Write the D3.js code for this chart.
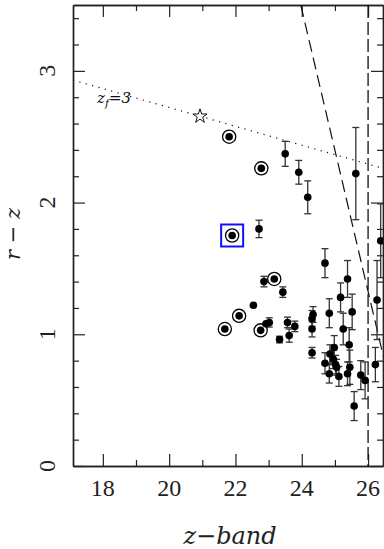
<!DOCTYPE html>
<html>
<head>
<meta charset="utf-8">
<script src="https://cdn.jsdelivr.net/npm/d3@7"></script>
<style>
  html, body { margin: 0; padding: 0; background: #fff; }
  svg { display: block; }
</style>
</head>
<body>
<svg id="chart" width="384" height="549"></svg>
<script>
// z-band magnitude and r - z colour of the detected objects, with 1-sigma colour errors
const zBand   = [23.50, 23.91, 24.18, 22.71, 25.63, 26.38, 26.27, 22.86, 23.43, 22.54,
                 22.92, 23.02, 23.33, 23.57, 23.62, 23.79, 24.31, 24.34, 24.31, 24.31,
                 24.70, 24.83, 25.17, 25.38, 25.52, 25.25, 24.70, 24.85, 24.98, 24.95,
                 25.02, 24.83, 25.12, 25.43, 25.45, 25.38, 25.78, 25.91, 25.58, 26.22,
                 25.05];
const rMinusZ = [2.37, 2.23, 2.04, 1.80, 2.22, 1.71, 1.26, 1.40, 1.32, 1.22,
                 1.08, 1.09, 0.96, 1.09, 0.99, 1.06, 1.12, 1.15, 1.04, 0.86,
                 1.54, 1.16, 1.28, 1.42, 1.17, 1.04, 0.78, 0.85, 0.90, 0.81,
                 0.77, 0.70, 0.68, 0.92, 0.75, 0.70, 0.69, 0.65, 0.455, 0.77,
                 0.75];
const colourErr = [0.095, 0.09, 0.125, 0.066, 0.35, 0.28, 0.30, 0.04, 0.04, 0,
                   0, 0.035, 0.025, 0.04, 0.05, 0.04, 0.06, 0.06, 0.06, 0.04,
                   0.11, 0.11, 0.11, 0.14, 0.135, 0.12, 0.08, 0.07, 0.09, 0.07,
                   0.07, 0.07, 0.075, 0.13, 0.13, 0.09, 0.11, 0.14, 0.11, 0.13,
                   0.06];

// spectroscopically confirmed objects (ringed)
const ringZ  = [21.81, 22.78, 21.90, 23.17, 22.11, 21.68, 22.76];
const ringRZ = [2.50, 2.26, 1.75, 1.42, 1.14, 1.04, 1.03];

// highlighted object (boxed)
const boxZ = [21.90];
const boxRZ = [1.75];

// model galaxy with formation redshift z_f = 3
const starZ = [20.93];
const starRZ = [2.655];
const trackZ  = [17.10, 26.45];
const trackRZ = [2.93, 2.26];
const trackLabel = ["z", "f", "=3"];

// detection limits
const limitZ  = [23.97, 26.50];
const limitRZ = [3.50, 0.79];
const zLimit = [26.0];

// axes
const xDomain = [17.1, 26.45];
const yDomain = [0, 3.5];
const xMajor = [18, 20, 22, 24, 26];
const xMinor = [19, 21, 23, 25];
const yMajor = [0, 1, 2, 3];
const yMinor = d3.range(0, 3.5001, 0.2).map(v => +v.toFixed(1));
const xTitle = "z\u2212band";
const yTitle = "r \u2212 z";

const svg = d3.select("#chart");
const pLeft = 73, pRight = 383, pTop = 5, pBottom = 466;

const x = d3.scaleLinear().domain(xDomain).range([pLeft, pRight]);
const y = d3.scaleLinear().domain(yDomain).range([pBottom, pTop]);

svg.append("defs").append("clipPath").attr("id", "plotClip")
  .append("rect").attr("x", pLeft).attr("y", pTop)
  .attr("width", pRight - pLeft).attr("height", pBottom - pTop);

const axisColor = "#222";
function styleAxis(g) {
  g.selectAll("path.domain").attr("stroke", axisColor).attr("stroke-width", 1.4);
  g.selectAll(".tick line").attr("stroke", axisColor).attr("stroke-width", 1.2);
  g.selectAll(".tick text").remove();
}

// bottom / top
[[d3.axisBottom, pBottom], [d3.axisTop, pTop]].forEach(([fn, pos]) => {
  svg.append("g").attr("transform", `translate(0,${pos})`)
    .call(fn(x).tickValues(xMajor).tickSize(-12).tickSizeOuter(0)).call(styleAxis);
  svg.append("g").attr("transform", `translate(0,${pos})`)
    .call(fn(x).tickValues(xMinor).tickSize(-6).tickSizeOuter(0)).call(styleAxis);
});
// left / right
[[d3.axisLeft, pLeft], [d3.axisRight, pRight]].forEach(([fn, pos]) => {
  svg.append("g").attr("transform", `translate(${pos},0)`)
    .call(fn(y).tickValues(yMajor).tickSize(-12).tickSizeOuter(0)).call(styleAxis);
  svg.append("g").attr("transform", `translate(${pos},0)`)
    .call(fn(y).tickValues(yMinor.filter(v => !yMajor.includes(v))).tickSize(-6).tickSizeOuter(0)).call(styleAxis);
});

// tick labels
const tickFont = "'Liberation Serif', 'DejaVu Serif', serif";
svg.append("g").selectAll("text").data(xMajor).join("text")
  .attr("x", d => x(d)).attr("y", 496)
  .attr("text-anchor", "middle")
  .attr("font-family", tickFont).attr("font-size", 24).attr("fill", "#222")
  .text(d => d);
svg.append("g").selectAll("text").data(yMajor).join("text")
  .attr("transform", d => `translate(55,${y(d)}) rotate(-90)`)
  .attr("text-anchor", "middle")
  .attr("font-family", tickFont).attr("font-size", 24).attr("fill", "#222")
  .text(d => d);

// axis titles
const titleFont = "'DejaVu Serif', serif";
svg.append("text").attr("x", 230).attr("y", 544)
  .attr("text-anchor", "middle").attr("font-family", titleFont)
  .attr("font-style", "italic").attr("font-size", 24).attr("fill", "#222")
  .text(xTitle);
svg.append("text").attr("transform", "translate(20,234) rotate(-90)")
  .attr("text-anchor", "middle").attr("font-family", titleFont)
  .attr("font-style", "italic").attr("font-size", 21).attr("fill", "#222")
  .attr("xml:space", "preserve")
  .text(yTitle);

const plot = svg.append("g").attr("clip-path", "url(#plotClip)");
const line = d3.line().x(d => x(d[0])).y(d => y(d[1]));

// z_f = 3 model track (dotted)
plot.append("path").datum(d3.zip(trackZ, trackRZ)).attr("d", line)
  .attr("fill", "none").attr("stroke", "#111").attr("stroke-width", 1.2)
  .attr("stroke-dasharray", "1.2,5.4");

// magnitude-dependent colour limit (dashed)
plot.append("path").datum(d3.zip(limitZ, limitRZ)).attr("d", line)
  .attr("fill", "none").attr("stroke", "#111").attr("stroke-width", 1.2)
  .attr("stroke-dasharray", "12,6");

// z-band limit (vertical dashed)
plot.selectAll("line.zlim").data(zLimit).join("line").attr("class", "zlim")
  .attr("x1", d => x(d)).attr("x2", d => x(d))
  .attr("y1", pTop).attr("y2", pBottom)
  .attr("stroke", "#111").attr("stroke-width", 1.3)
  .attr("stroke-dasharray", "13,4");

// error bars
const pts = zBand.map((z, i) => ({ z, c: rMinusZ[i], e: colourErr[i] }));
const eb = plot.append("g").attr("stroke", "#333").attr("stroke-width", 1.3);
const withErr = pts.filter(d => d.e > 0);
eb.selectAll("line.v").data(withErr).join("line").attr("class", "v")
  .attr("x1", d => x(d.z)).attr("x2", d => x(d.z))
  .attr("y1", d => y(d.c - d.e)).attr("y2", d => y(d.c + d.e));
eb.selectAll("line.hi").data(withErr).join("line").attr("class", "hi")
  .attr("x1", d => x(d.z) - 3.5).attr("x2", d => x(d.z) + 3.5)
  .attr("y1", d => y(d.c + d.e)).attr("y2", d => y(d.c + d.e));
eb.selectAll("line.lo").data(withErr).join("line").attr("class", "lo")
  .attr("x1", d => x(d.z) - 3.5).attr("x2", d => x(d.z) + 3.5)
  .attr("y1", d => y(d.c - d.e)).attr("y2", d => y(d.c - d.e));

// filled points
plot.append("g").selectAll("circle").data(pts).join("circle")
  .attr("cx", d => x(d.z)).attr("cy", d => y(d.c)).attr("r", 3.8)
  .attr("fill", "#000");

// ringed points
const rings = ringZ.map((z, i) => ({ z, c: ringRZ[i] }));
const rg = plot.append("g");
rg.selectAll("circle.ring").data(rings).join("circle").attr("class", "ring")
  .attr("cx", d => x(d.z)).attr("cy", d => y(d.c)).attr("r", 6.6)
  .attr("fill", "none").attr("stroke", "#000").attr("stroke-width", 1.3);
rg.selectAll("circle.dot").data(rings).join("circle").attr("class", "dot")
  .attr("cx", d => x(d.z)).attr("cy", d => y(d.c)).attr("r", 3.8)
  .attr("fill", "#000");

// highlighted object box
plot.selectAll("rect.box").data(d3.zip(boxZ, boxRZ)).join("rect").attr("class", "box")
  .attr("x", d => x(d[0]) - 11).attr("y", d => y(d[1]) - 11)
  .attr("width", 22).attr("height", 22)
  .attr("fill", "none").attr("stroke", "#1010ff").attr("stroke-width", 2);

// model galaxy star
plot.selectAll("path.star").data(d3.zip(starZ, starRZ)).join("path").attr("class", "star")
  .attr("transform", d => `translate(${x(d[0])},${y(d[1])})`)
  .attr("d", d3.symbol().type(d3.symbolStar).size(62))
  .attr("fill", "#fff").attr("stroke", "#111").attr("stroke-width", 1);

// track label z_f=3
const lab = svg.append("text").attr("x", 97).attr("y", 103)
  .attr("font-family", titleFont).attr("font-style", "italic")
  .attr("font-size", 15).attr("fill", "#111");
lab.append("tspan").text(trackLabel[0]);
lab.append("tspan").attr("dy", 4).attr("font-size", 11).text(trackLabel[1]);
lab.append("tspan").attr("dy", -4).text(trackLabel[2]);
</script>
</body>
</html>
